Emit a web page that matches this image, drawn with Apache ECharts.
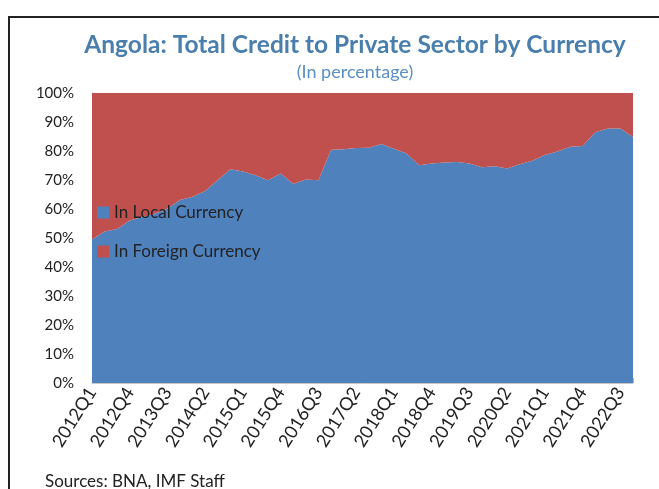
<!DOCTYPE html>
<html>
<head>
<meta charset="utf-8">
<script src="https://cdn.jsdelivr.net/npm/echarts@6/dist/echarts.min.js"></script>
<style>
html,body{margin:0;padding:0;background:#fff;}
#frame{position:absolute;left:8px;top:16px;width:700px;height:520px;border-left:2px solid #222;border-top:2px solid #222;}
#chart{position:absolute;left:0;top:0;width:659px;height:489px;}
</style>
</head>
<body>
<div id="frame"></div>
<div id="chart"></div>
<script>
const quarters = [];
for (let y = 2012; y <= 2022; y++) { for (let q = 1; q <= 4; q++) quarters.push(y + 'Q' + q); }

const localCurrency = [
  49.5, 52.2, 53.1, 56.0, 57.2, 58.4, 60.2, 63.1, 64.2, 66.2,
  70.0, 73.7, 72.9, 71.6, 69.9, 72.2, 68.6, 70.2, 69.9, 80.4,
  80.6, 81.0, 81.1, 82.4, 80.8, 79.1, 75.1, 75.7, 76.0, 76.2,
  75.7, 74.4, 74.7, 74.0, 75.4, 76.6, 78.6, 79.8, 81.5, 81.7,
  86.5, 87.8, 87.8, 84.8
];
const foreignCurrency = [
  50.5, 47.8, 46.9, 44.0, 42.8, 41.6, 39.8, 36.9, 35.8, 33.8,
  30.0, 26.3, 27.1, 28.4, 30.1, 27.8, 31.4, 29.8, 30.1, 19.6,
  19.4, 19.0, 18.9, 17.6, 19.2, 20.9, 24.9, 24.3, 24.0, 23.8,
  24.3, 25.6, 25.3, 26.0, 24.6, 23.4, 21.4, 20.2, 18.5, 18.3,
  13.5, 12.2, 12.2, 15.2
];
const yTicks = [0, 10, 20, 30, 40, 50, 60, 70, 80, 90, 100];

const FONT = 'Lato';
const chart = echarts.init(document.getElementById('chart'));
chart.setOption({
  animation: false,
  textStyle: { fontFamily: FONT },
  title: [
    { text: 'Angola: Total Credit to Private Sector by Currency', left: 350, top: 28, textAlign: 'center',
      textStyle: { fontFamily: FONT, fontSize: 24.5, fontWeight: 'bold', color: '#4a7ead' } },
    { text: '(In percentage)', left: 350, top: 58, textAlign: 'center',
      textStyle: { fontFamily: FONT, fontSize: 18, fontWeight: 'normal', color: '#5b8fc4' } },
    { text: 'Sources: BNA, IMF Staff', left: 40, top: 468,
      textStyle: { fontFamily: FONT, fontSize: 17, fontWeight: 'normal', color: '#222' } }
  ],
  legend: {
    orient: 'vertical', left: 92, top: 199, itemGap: 22,
    itemWidth: 12, itemHeight: 12, icon: 'rect',
    textStyle: { fontFamily: FONT, fontSize: 17, color: '#222' },
    data: ['In Local Currency', 'In Foreign Currency']
  },
  grid: { left: 92, right: 26, top: 93, bottom: 106, containLabel: false },
  xAxis: {
    type: 'category', data: quarters, boundaryGap: false,
    axisLine: { show: true, lineStyle: { color: '#c8c8c8', width: 1 } },
    axisTick: { show: true, inside: true, interval: 0, length: 5, lineStyle: { color: '#b8b8b8' } },
    axisLabel: { interval: 2, rotate: 58, fontFamily: FONT, fontSize: 18, color: '#222', margin: 6 },
    splitLine: { show: false }
  },
  yAxis: {
    type: 'value', min: 0, max: 100, interval: 10,
    axisLine: { show: true, lineStyle: { color: '#c8c8c8', width: 1 } },
    axisTick: { show: true, inside: true, length: 4, lineStyle: { color: '#c8c8c8' } },
    axisLabel: { formatter: v => yTicks.includes(v) ? v + '%' : '', fontFamily: FONT, fontSize: 15, color: '#222', margin: 18 },
    splitLine: { show: false }
  },
  series: [
    { name: 'In Local Currency', type: 'line', stack: 'total', data: localCurrency,
      symbol: 'none', lineStyle: { width: 0 }, areaStyle: { color: '#4f81bd', opacity: 1 },
      itemStyle: { color: '#4f81bd' } },
    { name: 'In Foreign Currency', type: 'line', stack: 'total', data: foreignCurrency,
      symbol: 'none', lineStyle: { width: 0 }, areaStyle: { color: '#c0504d', opacity: 1 },
      itemStyle: { color: '#c0504d' } }
  ]
});
</script>
</body>
</html>
